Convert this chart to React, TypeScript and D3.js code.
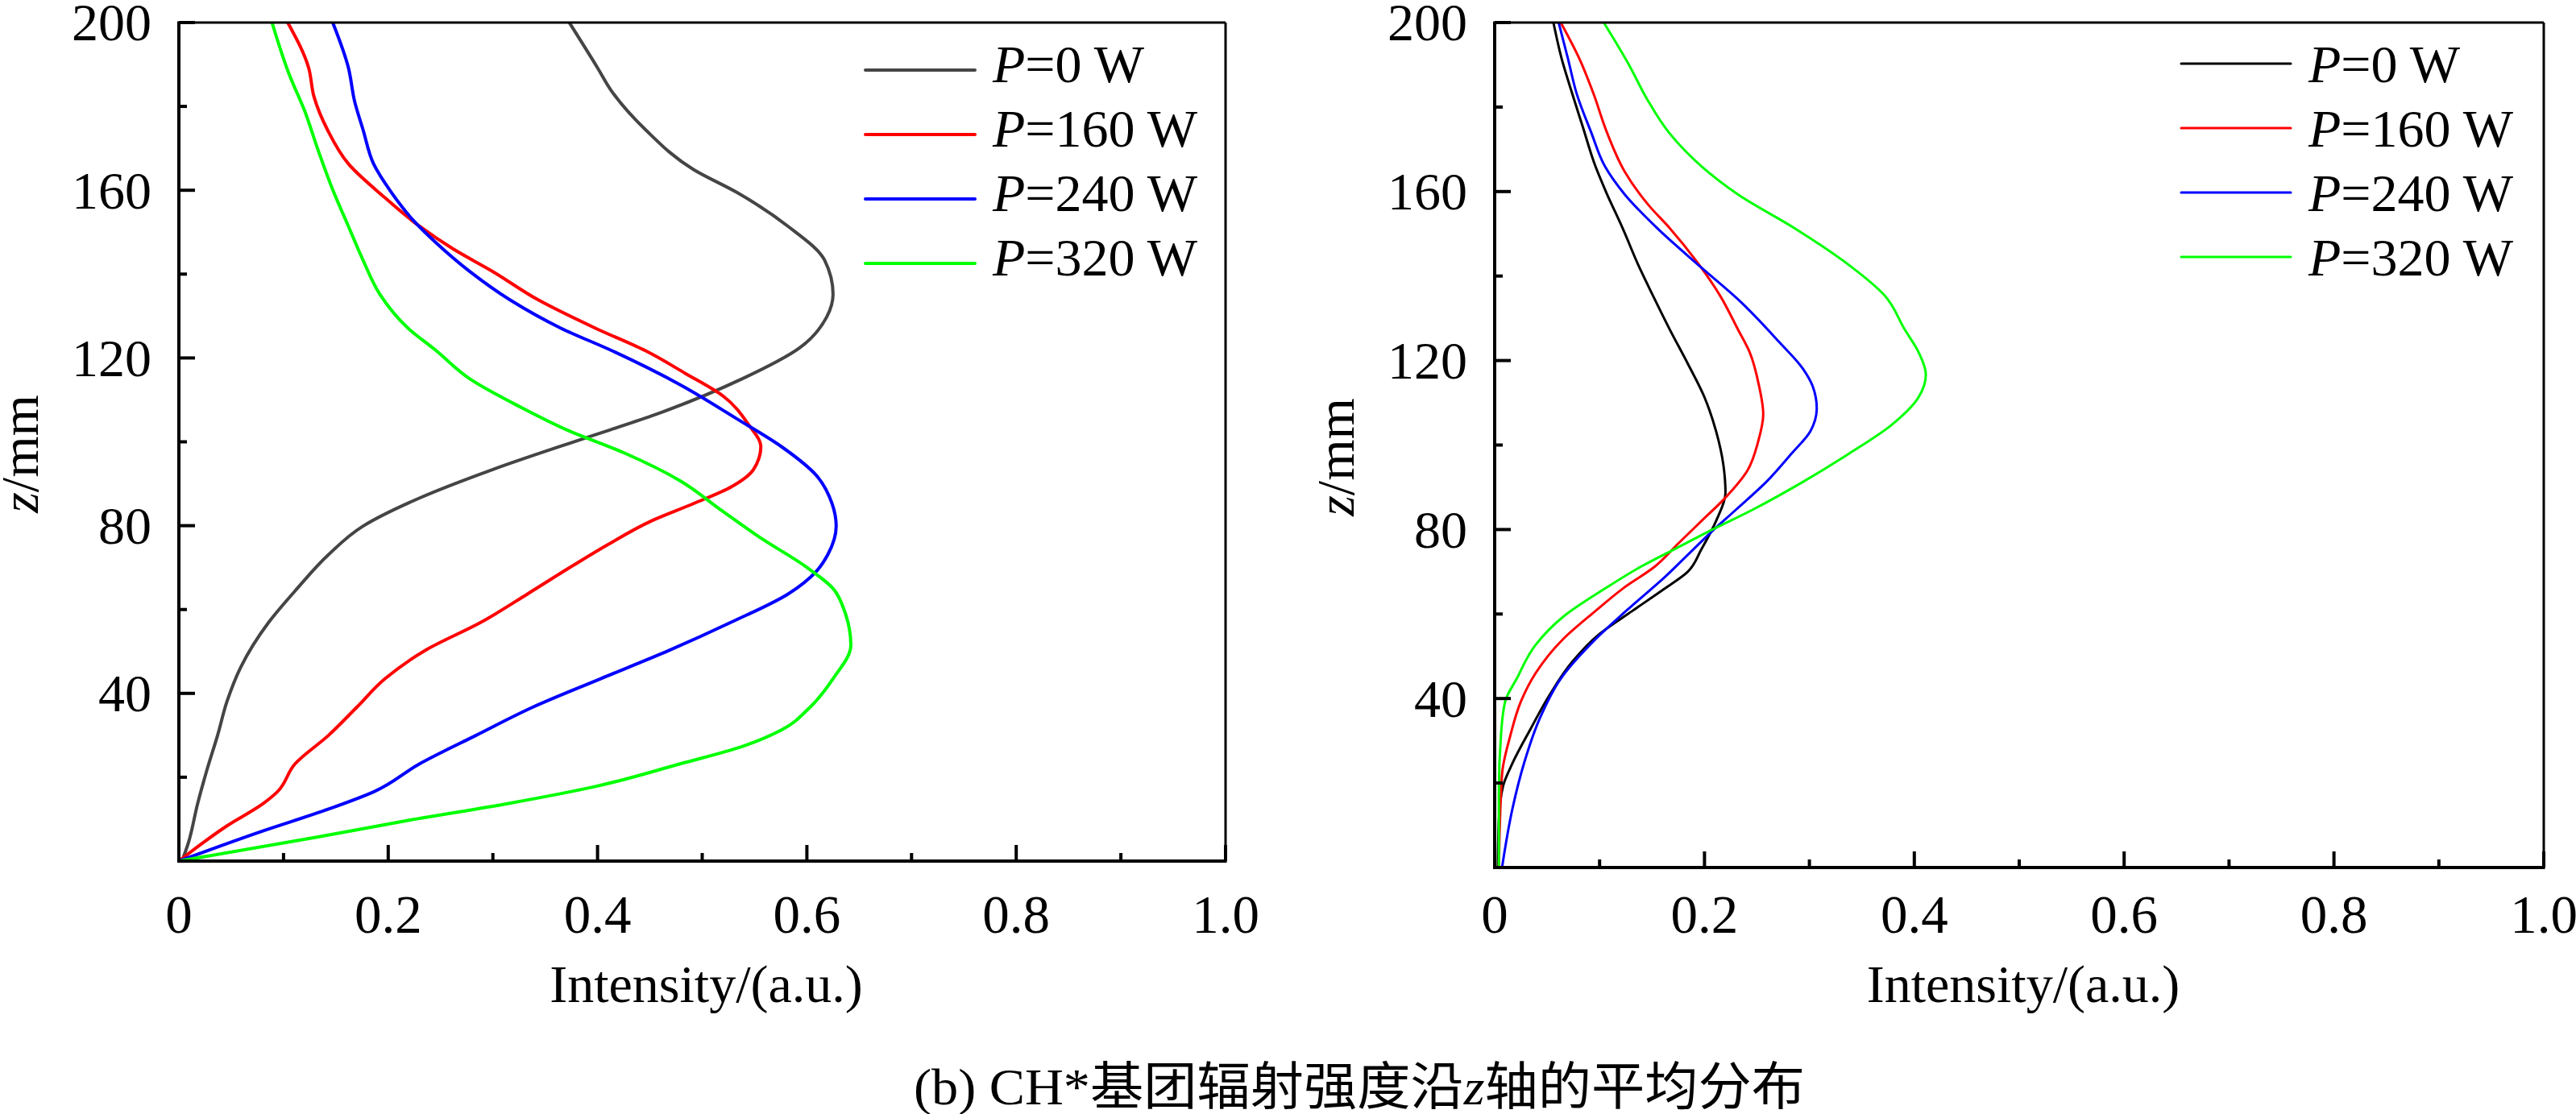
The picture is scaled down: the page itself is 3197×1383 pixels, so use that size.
import React, { useEffect, useRef } from 'react';
import * as d3 from 'd3';

// [z in mm, intensity in a.u.]
type Pt = [number, number];

const seriesNames = ['0', '160', '240', '320'];
const xTicks = [0, 0.2, 0.4, 0.6, 0.8, 1.0];
const xTickLabels = ['0', '0.2', '0.4', '0.6', '0.8', '1.0'];
const xMinorTicks = [0.1, 0.3, 0.5, 0.7, 0.9];
const zTicks = [40, 80, 120, 160, 200];
const zMinorTicks = [20, 60, 100, 140, 180];

// left panel
const leftP0: Pt[] = [[0, 0.003], [4.3, 0.009], [13.8, 0.018], [21.9, 0.027], [30, 0.037], [38.1, 0.046], [46.2, 0.059], [57, 0.086], [65, 0.113], [73.1, 0.143], [79.9, 0.176], [86.6, 0.23], [93.4, 0.3], [100.8, 0.387], [106.2, 0.452], [115, 0.538], [122.4, 0.593], [129.8, 0.619], [135.2, 0.625], [143.3, 0.617], [151.4, 0.582], [159.5, 0.533], [164.9, 0.492], [174.4, 0.446], [183.8, 0.413], [189.2, 0.4], [200, 0.373]];
const leftP160: Pt[] = [[0, 0], [8.4, 0.046], [13.8, 0.081], [16.5, 0.094], [23.2, 0.111], [30, 0.143], [36.7, 0.17], [43.5, 0.197], [50.2, 0.235], [57, 0.289], [63.7, 0.333], [70.4, 0.376], [75.5, 0.41], [81.2, 0.452], [85.3, 0.492], [89.3, 0.528], [93.4, 0.549], [98.8, 0.556], [104.2, 0.544], [110.9, 0.52], [116.3, 0.484], [121.7, 0.446], [127.1, 0.398], [133.9, 0.343], [140.6, 0.3], [146, 0.262], [151.4, 0.23], [158.2, 0.197], [166.3, 0.162], [174.4, 0.142], [182.4, 0.129], [189.2, 0.124], [200, 0.104]];
const leftP240: Pt[] = [[0, 0], [7, 0.078], [12.4, 0.143], [16.5, 0.186], [23.2, 0.23], [30, 0.284], [36.7, 0.338], [43.5, 0.403], [50.2, 0.468], [57, 0.528], [63.7, 0.582], [69.1, 0.609], [73.1, 0.62], [79.9, 0.628], [85.3, 0.624], [92, 0.609], [98.8, 0.576], [105.5, 0.533], [113.6, 0.479], [121.7, 0.414], [127.1, 0.365], [133.9, 0.316], [140.6, 0.278], [147.4, 0.246], [152.8, 0.224], [159.5, 0.203], [166.3, 0.186], [174.4, 0.176], [181.1, 0.168], [189.2, 0.162], [200, 0.147]];
const leftP320: Pt[] = [[0, 0], [5.7, 0.132], [9.7, 0.219], [13.8, 0.316], [17.8, 0.398], [23.2, 0.479], [27.3, 0.538], [31.3, 0.576], [36.7, 0.603], [43.5, 0.625], [51.5, 0.642], [59.6, 0.636], [65, 0.625], [70.4, 0.598], [77.2, 0.555], [83.9, 0.517], [90.7, 0.479], [97.4, 0.425], [102.8, 0.371], [108.2, 0.327], [115, 0.278], [121.7, 0.246], [127.1, 0.219], [135.2, 0.192], [143.3, 0.176], [151.4, 0.162], [159.5, 0.148], [170.3, 0.132], [178.4, 0.121], [187.9, 0.105], [200, 0.089]];

// right panel
const rightP0: Pt[] = [[0, 0.003], [11.3, 0.004], [19.3, 0.008], [24.7, 0.017], [32.7, 0.034], [40.7, 0.052], [48.7, 0.074], [55.3, 0.1], [60.7, 0.131], [66, 0.162], [70, 0.184], [75.3, 0.197], [82, 0.211], [88.7, 0.22], [95.3, 0.218], [103.3, 0.211], [111.3, 0.2], [119.3, 0.184], [127.3, 0.167], [135.3, 0.151], [142, 0.138], [151.3, 0.122], [160, 0.106], [166, 0.096], [175.3, 0.084], [184.7, 0.072], [191.3, 0.064], [200, 0.056]];
const rightP160: Pt[] = [[0, 0.004], [22, 0.007], [31.3, 0.015], [39.3, 0.025], [46, 0.039], [54, 0.065], [60.7, 0.096], [66, 0.122], [71.3, 0.153], [76.7, 0.175], [82, 0.197], [87.3, 0.219], [94, 0.241], [100.7, 0.251], [107.3, 0.256], [114, 0.252], [122, 0.243], [127.3, 0.232], [135.3, 0.215], [143.3, 0.193], [151.3, 0.167], [156.7, 0.147], [164.7, 0.124], [174, 0.107], [183.3, 0.094], [191.3, 0.081], [200, 0.063]];
const rightP240: Pt[] = [[0, 0.007], [14, 0.017], [24.7, 0.028], [35.3, 0.043], [44.7, 0.063], [54, 0.096], [62, 0.131], [68.7, 0.162], [74, 0.184], [79.3, 0.206], [84.7, 0.23], [91.3, 0.259], [98, 0.283], [103.3, 0.301], [108.7, 0.307], [114, 0.303], [118, 0.294], [124.7, 0.27], [134, 0.234], [142, 0.197], [151.3, 0.155], [159.3, 0.124], [166, 0.105], [174, 0.092], [183.3, 0.078], [191.3, 0.07], [200, 0.061]];
const rightP320: Pt[] = [[0, 0.004], [18, 0.004], [31.3, 0.006], [39.3, 0.01], [44.7, 0.021], [52.7, 0.039], [59.3, 0.065], [66, 0.105], [71.3, 0.14], [75.3, 0.171], [79.3, 0.202], [84.7, 0.246], [91.3, 0.294], [98, 0.338], [104.7, 0.378], [111.3, 0.404], [116.7, 0.411], [122, 0.404], [127.3, 0.391], [135.3, 0.372], [143.3, 0.334], [151.3, 0.286], [159.3, 0.232], [166, 0.197], [174, 0.166], [182, 0.145], [190, 0.128], [200, 0.104]];

const WIDTH = 3197;
const HEIGHT = 1383;
const SERIF = "'Liberation Serif', 'Times New Roman', serif";
const CJK = "'Noto Sans CJK SC', sans-serif";

interface Panel {
  left: number;
  right: number;
  top: number;
  bottom: number;
  series: Pt[][];
  colors: string[];
  lineWidth: number;
  legendLineY: number;
}

const panels: Panel[] = [
  {
    left: 222, right: 1521, top: 28, bottom: 1069,
    series: [leftP0, leftP160, leftP240, leftP320],
    colors: ['#454545', '#ff0000', '#0000ff', '#00ff00'],
    lineWidth: 4,
    legendLineY: 87,
  },
  {
    left: 1855, right: 3157, top: 28, bottom: 1077,
    series: [rightP0, rightP160, rightP240, rightP320],
    colors: ['#000000', '#ff0000', '#0000ff', '#00ff00'],
    lineWidth: 3,
    legendLineY: 79,
  },
];

const drawPanel = (svg: d3.Selection<SVGSVGElement, unknown, null, undefined>, p: Panel) => {
  const x = d3.scaleLinear().domain([0, 1]).range([p.left, p.right]);
  const y = d3.scaleLinear().domain([0, 200]).range([p.bottom, p.top]);
  const g = svg.append('g');

  // curves (z is the independent variable, drawn vertically)
  const line = d3.line<Pt>()
    .x(d => x(d[1]))
    .y(d => y(d[0]))
    .curve(d3.curveMonotoneY);

  p.series.forEach((s, i) => {
    g.append('path')
      .datum(s.slice().reverse())
      .attr('fill', 'none')
      .attr('stroke', p.colors[i])
      .attr('stroke-width', p.lineWidth)
      .attr('stroke-linejoin', 'round')
      .attr('d', line);
  });

  // inward ticks
  const tickG = g.append('g').attr('stroke', '#000').attr('stroke-width', 4);
  xTicks.forEach(t => tickG.append('line').attr('x1', x(t)).attr('x2', x(t)).attr('y1', p.bottom).attr('y2', p.bottom - 20));
  xMinorTicks.forEach(t => tickG.append('line').attr('x1', x(t)).attr('x2', x(t)).attr('y1', p.bottom).attr('y2', p.bottom - 10));
  zTicks.forEach(t => tickG.append('line').attr('x1', p.left).attr('x2', p.left + 20).attr('y1', y(t)).attr('y2', y(t)));
  zMinorTicks.forEach(t => tickG.append('line').attr('x1', p.left).attr('x2', p.left + 10).attr('y1', y(t)).attr('y2', y(t)));

  // frame: left and bottom heavier than top and right
  g.append('line').attr('x1', p.left).attr('x2', p.right).attr('y1', p.top).attr('y2', p.top).attr('stroke', '#000').attr('stroke-width', 3);
  g.append('line').attr('x1', p.right).attr('x2', p.right).attr('y1', p.top).attr('y2', p.bottom).attr('stroke', '#000').attr('stroke-width', 3);
  g.append('line').attr('x1', p.left).attr('x2', p.left).attr('y1', p.top - 1.5).attr('y2', p.bottom + 2).attr('stroke', '#000').attr('stroke-width', 4);
  g.append('line').attr('x1', p.left - 2).attr('x2', p.right + 1.5).attr('y1', p.bottom).attr('y2', p.bottom).attr('stroke', '#000').attr('stroke-width', 4);

  // tick labels
  g.append('g')
    .selectAll('text')
    .data(xTicks)
    .enter()
    .append('text')
    .attr('x', d => x(d))
    .attr('y', 1158)
    .attr('text-anchor', 'middle')
    .attr('font-family', SERIF)
    .attr('font-size', 67)
    .text((d, i) => xTickLabels[i]);

  g.append('g')
    .selectAll('text')
    .data(zTicks)
    .enter()
    .append('text')
    .attr('x', p.left - 34)
    .attr('y', d => y(d))
    .attr('dy', '0.34em')
    .attr('text-anchor', 'end')
    .attr('font-family', SERIF)
    .attr('font-size', 66)
    .text(d => String(d));

  // axis titles
  g.append('text')
    .attr('x', (p.left + p.right) / 2 + 5)
    .attr('y', 1244)
    .attr('text-anchor', 'middle')
    .attr('font-family', SERIF)
    .attr('font-size', 66)
    .text('Intensity/(a.u.)');

  const yTitle = g.append('text')
    .attr('transform', `translate(${p.left - 175}, ${(p.top + p.bottom) / 2 + 15}) rotate(-90)`)
    .attr('text-anchor', 'middle')
    .attr('font-family', SERIF)
    .attr('font-size', 66);
  yTitle.append('tspan').attr('font-style', 'italic').text('z');
  yTitle.append('tspan').text('/mm');

  // legend
  const lg = g.append('g').attr('transform', `translate(${p.left + 852}, 0)`);
  seriesNames.forEach((name, i) => {
    const cy = p.legendLineY + i * 80;
    lg.append('line')
      .attr('x1', 0).attr('x2', 136)
      .attr('y1', cy).attr('y2', cy)
      .attr('stroke', p.colors[i])
      .attr('stroke-width', p.lineWidth)
      .attr('stroke-linecap', 'round');
    const t = lg.append('text')
      .attr('x', 158)
      .attr('y', 102 + i * 80)
      .attr('font-family', SERIF)
      .attr('font-size', 66);
    t.append('tspan').attr('font-style', 'italic').text('P');
    t.append('tspan').text(`=${name} W`);
  });
};

export default function App() {
  const svgRef = useRef<SVGSVGElement>(null);

  useEffect(() => {
    if (!svgRef.current) return;
    document.body.style.margin = '0';
    const svg = d3.select(svgRef.current);
    svg.selectAll('*').remove();

    svg.append('rect').attr('width', WIDTH).attr('height', HEIGHT).attr('fill', '#fff');

    panels.forEach(p => drawPanel(svg, p));

    // caption
    const cap = svg.append('text')
      .attr('x', 1134)
      .attr('y', 1371)
      .attr('font-size', 64)
      .attr('textLength', 1106)
      .attr('lengthAdjust', 'spacingAndGlyphs');
    cap.append('tspan').attr('font-family', SERIF).text('(b) CH*');
    cap.append('tspan').attr('font-family', CJK).text('基团辐射强度沿');
    cap.append('tspan').attr('font-family', SERIF).attr('font-style', 'italic').text('z');
    cap.append('tspan').attr('font-family', CJK).text('轴的平均分布');
  }, []);

  return (
    <svg ref={svgRef} width={WIDTH} height={HEIGHT} style={{ display: 'block' }} />
  );
}
